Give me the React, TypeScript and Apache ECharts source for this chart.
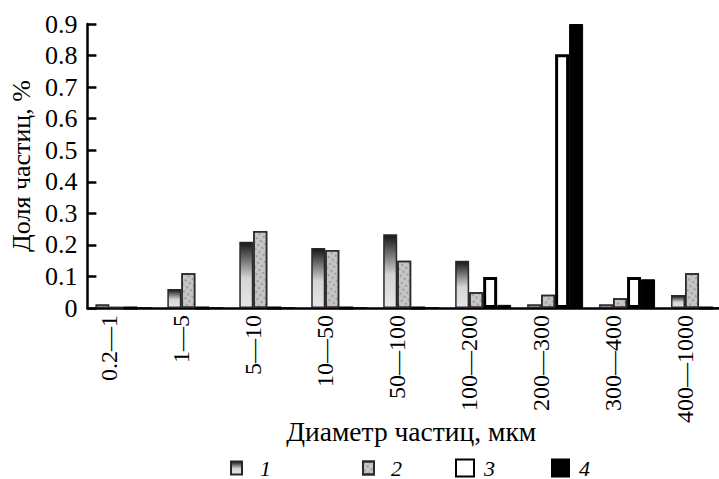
import React, { useEffect, useRef } from "react";
import * as echarts from "echarts";

const categories = ["0.2—1", "1—5", "5—10", "10—50", "50—100", "100—200", "200—300", "300—400", "400—1000"];
const series1 = [0.012, 0.06, 0.21, 0.19, 0.234, 0.15, 0.012, 0.012, 0.041];
const series2 = [0.003, 0.11, 0.244, 0.184, 0.15, 0.05, 0.042, 0.031, 0.11];
const series3 = [0, 0, 0, 0, 0, 0.098, 0.804, 0.098, 0];
const series4 = [0, 0, 0, 0, 0, 0.01, 0.9, 0.091, 0];
const seriesNames = ["1", "2", "3", "4"];
const yTicks = { min: 0, max: 0.9, interval: 0.1 };

const FONT = "'Liberation Serif', 'Times New Roman', serif";

export default function App() {
  const ref = useRef<HTMLDivElement>(null);
  useEffect(() => {
    if (!ref.current) return;
    const chart = echarts.init(ref.current, null, { renderer: "svg" });
    const grad = new echarts.graphic.LinearGradient(0, 0, 0, 1, [
      { offset: 0, color: "#151515" },
      { offset: 0.55, color: "#d4d4d4" },
      { offset: 1, color: "#e6e6e6" },
    ]);
    const legendPos = [230, 362, 455, 551];
    const legendW = [11, 11, 18, 17];
    const legendH = [13, 13, 17, 17];
    const legendTextPad = [13, 12, 5, 5];
    chart.setOption({
      animation: false,
      backgroundColor: "#ffffff",
      textStyle: { fontFamily: FONT, fontWeight: "normal" },
      grid: [
        { left: 87, top: 24, width: 648, bottom: 171, containLabel: false },
        { left: 73, top: 24, width: 648, bottom: 171, containLabel: false },
      ],
      legend: seriesNames.map((n, i) => ({
        data: [{ name: n, icon: "rect" }],
        left: legendPos[i],
        top: 457,
        padding: 0,
        itemWidth: legendW[i],
        itemHeight: legendH[i],
        itemGap: 0,
        selectedMode: false,
        textStyle: {
          fontFamily: FONT,
          fontSize: 22,
          fontStyle: "italic",
          fontWeight: "normal",
          color: "#000",
          padding: [0, 0, 0, legendTextPad[i]],
        },
      })),
      xAxis: [
        {
          type: "category",
          gridIndex: 0,
          data: categories,
          axisLine: { lineStyle: { color: "#000", width: 2.5 } },
          axisTick: { show: false },
          axisLabel: { show: false },
          name: "Диаметр частиц, мкм",
          nameLocation: "middle",
          nameGap: 109,
          nameTextStyle: { fontFamily: FONT, fontWeight: "normal", fontSize: 27.5, color: "#000" },
        },
        {
          type: "category",
          gridIndex: 1,
          data: categories,
          axisLine: { show: false },
          axisTick: { show: false },
          axisLabel: { rotate: 90, margin: 7, interval: 0, fontFamily: FONT, fontWeight: "normal", fontSize: 24, color: "#000" },
        },
      ],
      yAxis: [
        {
          type: "value",
          gridIndex: 0,
          min: yTicks.min,
          max: yTicks.max,
          interval: yTicks.interval,
          splitLine: { show: false },
          axisLine: { show: true, lineStyle: { color: "#000", width: 2.5 } },
          axisTick: { show: true, inside: true, length: 9, lineStyle: { color: "#000", width: 2.5 } },
          axisLabel: { margin: 10, fontFamily: FONT, fontWeight: "normal", fontSize: 26, color: "#000" },
          name: "Доля частиц, %",
          nameLocation: "middle",
          nameGap: 52,
          nameTextStyle: { fontFamily: FONT, fontWeight: "normal", fontSize: 26, color: "#000" },
        },
        { type: "value", gridIndex: 1, show: false, min: 0, max: 0.9 },
      ],
      series: [
        {
          name: seriesNames[0],
          type: "bar",
          data: series1,
          barWidth: 14,
          barGap: "0%",
          itemStyle: { color: grad, borderColor: "#2a2a2a", borderWidth: 1.5 },
        },
        {
          name: seriesNames[1],
          type: "bar",
          data: series2,
          barWidth: 14,
          barGap: "0%",
          itemStyle: {
            color: "#c6c6c6",
            borderColor: "#2a2a2a",
            borderWidth: 1.5,
            decal: {
              symbol: "circle",
              symbolSize: 0.7,
              dashArrayX: [3, 2],
              dashArrayY: [3, 2],
              rotation: 0.6,
              color: "rgba(80,80,80,0.45)",
            },
          },
        },
        {
          name: seriesNames[2],
          type: "bar",
          data: series3,
          barWidth: 14,
          barGap: "0%",
          itemStyle: { color: "#ffffff", borderColor: "#000", borderWidth: 3 },
        },
        {
          name: seriesNames[3],
          type: "bar",
          data: series4,
          barWidth: 14,
          barGap: "0%",
          itemStyle: { color: "#000", borderColor: "#000", borderWidth: 1 },
        },
      ],
    });
    return () => chart.dispose();
  }, []);
  return (
    <div style={{ position: "fixed", left: 0, top: 0, width: 719, height: 479, overflow: "hidden", background: "#fff" }}>
      <div ref={ref} style={{ width: 760, height: 479 }} />
    </div>
  );
}
